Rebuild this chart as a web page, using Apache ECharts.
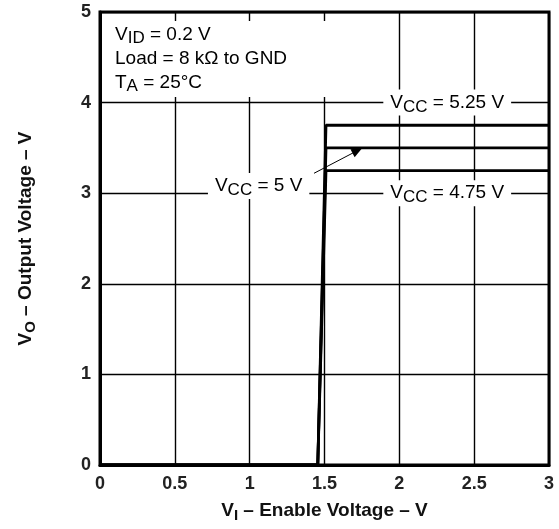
<!DOCTYPE html>
<html>
<head>
<meta charset="utf-8">
<script src="https://cdn.jsdelivr.net/npm/echarts@6/dist/echarts.min.js"></script>
<title>Output Voltage vs Enable Voltage</title>
</head>
<body style="margin:0;background:#fff;">
<div id="main" style="width:559px;height:529px;"></div>
<script type="text/javascript">
// enable voltage breakpoints (V)
var vIn = [0, 1.455, 1.51, 3];
// output voltage for each supply (V)
var vo525 = [0, 0, 3.75, 3.75];
var vo500 = [0, 0, 3.5, 3.5];
var vo475 = [0, 0, 3.25, 3.25];
var xTickLabels = ['0', '0.5', '1', '1.5', '2', '2.5', '3'];
var yTickLabels = ['0', '1', '2', '3', '4', '5'];

var FONT = 'Liberation Sans';

function pairs(ys) {
    return vIn.map(function (x, i) { return [x, ys[i]]; });
}

var rich = {
    m: { fontFamily: FONT, fontSize: 19, color: '#000', lineHeight: 26, verticalAlign: 'middle' },
    s: { fontFamily: FONT, fontSize: 17, color: '#000', lineHeight: 17, verticalAlign: 'bottom' }
};

function curveLabel(text, coord) {
    return {
        coord: coord,
        symbol: 'circle',
        symbolSize: 1,
        itemStyle: { color: 'rgba(0,0,0,0)' },
        label: {
            show: true,
            position: 'inside',
            formatter: text,
            backgroundColor: '#fff',
            padding: [0, 7],
            rich: rich
        }
    };
}

var myChart = echarts.init(document.getElementById('main'));

var lineStyle = { color: '#000', width: 2.8 };

var option = {
    animation: false,
    backgroundColor: '#fff',
    grid: {
        left: 100, right: 10, top: 12, bottom: 64,
        show: true, borderColor: '#000', borderWidth: 3
    },
    xAxis: {
        type: 'value', min: 0, max: 3, interval: 0.5,
        name: '{m|V}{s|I}{m| – Enable Voltage – V}',
        nameLocation: 'middle', nameGap: 34,
        nameTextStyle: {
            rich: {
                m: { fontFamily: FONT, fontSize: 19, fontWeight: 'bold', color: '#111', lineHeight: 24, verticalAlign: 'middle' },
                s: { fontFamily: FONT, fontSize: 15, fontWeight: 'bold', color: '#111', lineHeight: 15, verticalAlign: 'bottom' }
            }
        },
        axisLine: { lineStyle: { color: '#000', width: 3 } },
        axisTick: { show: false },
        axisLabel: {
            margin: 10, fontFamily: FONT, fontSize: 18, fontWeight: 'bold', color: '#222',
            formatter: function (v) { return xTickLabels[Math.round(v / 0.5)]; }
        },
        splitLine: { show: true, lineStyle: { color: '#000', width: 1.4 } }
    },
    yAxis: {
        type: 'value', min: 0, max: 5, interval: 1,
        name: '{m|V}{s|O}{m| – Output Voltage – V}',
        nameLocation: 'middle', nameGap: 62,
        nameTextStyle: {
            rich: {
                m: { fontFamily: FONT, fontSize: 19, fontWeight: 'bold', color: '#111', lineHeight: 24, verticalAlign: 'middle' },
                s: { fontFamily: FONT, fontSize: 15, fontWeight: 'bold', color: '#111', lineHeight: 15, verticalAlign: 'bottom' }
            }
        },
        axisLine: { lineStyle: { color: '#000', width: 3 } },
        axisTick: { show: false },
        axisLabel: {
            margin: 9, fontFamily: FONT, fontSize: 18, fontWeight: 'bold', color: '#222',
            formatter: function (v) { return yTickLabels[Math.round(v)]; }
        },
        splitLine: { show: true, lineStyle: { color: '#000', width: 1.4 } }
    },
    graphic: [{
        type: 'text',
        left: 103, top: 21,
        style: {
            text: '{m|V}{s|ID}{m| = 0.2 V}\n{m|Load = 8 kΩ to GND}\n{m|T}{s|A}{m| = 25°C}',
            backgroundColor: '#fff',
            padding: [2, 90, 2, 12],
            rich: {
                m: { fontFamily: FONT, fontSize: 19, fill: '#000', lineHeight: 24, verticalAlign: 'middle' },
                s: { fontFamily: FONT, fontSize: 17, fill: '#000', lineHeight: 17, verticalAlign: 'bottom' }
            }
        },
        z: 10
    }],
    series: [
        {
            name: 'VCC = 5.25 V', type: 'line', data: pairs(vo525),
            symbol: 'none', lineStyle: lineStyle, z: 3,
            markPoint: {
                silent: true,
                data: [curveLabel('{m|V}{s|CC}{m| = 5.25 V}', [2.32, 4])]
            }
        },
        {
            name: 'VCC = 5 V', type: 'line', data: pairs(vo500),
            symbol: 'none', lineStyle: lineStyle, z: 3,
            markPoint: {
                silent: true,
                data: [curveLabel('{m|V}{s|CC}{m| = 5 V}', [1.06, 3.08])]
            },
            markLine: {
                silent: true,
                symbol: ['none', 'triangle'],
                symbolSize: [9, 11],
                lineStyle: { color: '#000', width: 1, type: 'solid' },
                label: { show: false },
                data: [[{ coord: [1.43, 3.22] }, { coord: [1.72, 3.47] }]]
            }
        },
        {
            name: 'VCC = 4.75 V', type: 'line', data: pairs(vo475),
            symbol: 'none', lineStyle: lineStyle, z: 3,
            markPoint: {
                silent: true,
                data: [curveLabel('{m|V}{s|CC}{m| = 4.75 V}', [2.32, 3])]
            }
        }
    ]
};

myChart.setOption(option);
</script>
</body>
</html>
